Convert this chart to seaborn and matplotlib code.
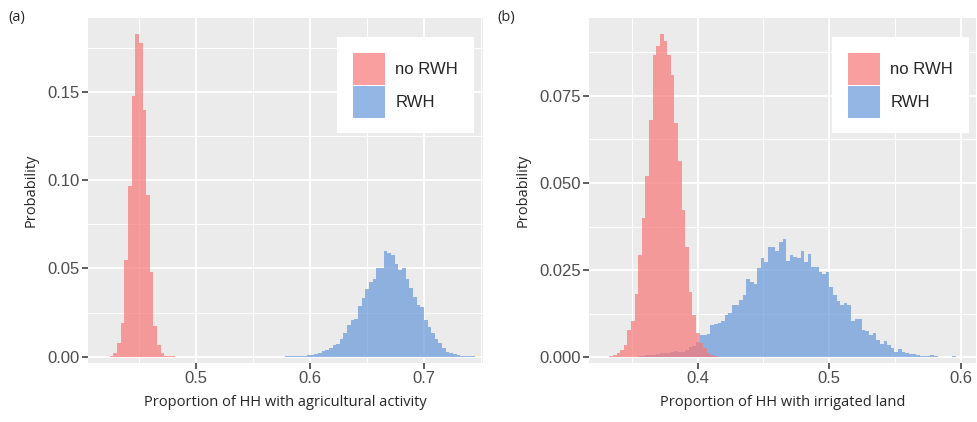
import numpy as np
import pandas as pd
import seaborn as sns
import matplotlib.pyplot as plt
from matplotlib.patches import Patch
from matplotlib.ticker import MultipleLocator

# ---- data (probabilities per bin) ----
groups = ["no RWH", "RWH"]

# panel (a): 100 shared bins
a_lo, a_width, a_nbins = 0.4243, 0.003207, 100
a_norwh_start = 0
a_norwh = [0.0004, 0.002, 0.008, 0.019, 0.055, 0.097, 0.148, 0.183, 0.178, 0.14,
           0.0915, 0.048, 0.0174, 0.0066, 0.002, 0.0006, 0.0002, 0.0001]
a_rwh_start = 48
a_rwh = [0.0001, 0.0001, 0.0002, 0.0002, 0.0003, 0.0006, 0.0007, 0.001, 0.0017, 0.0023,
         0.003, 0.0038, 0.005, 0.0068, 0.0074, 0.0098, 0.0136, 0.0178, 0.021, 0.0212,
         0.0288, 0.0333, 0.0386, 0.0424, 0.0443, 0.05, 0.05, 0.0598, 0.0585, 0.0576,
         0.0528, 0.049, 0.05, 0.0443, 0.039, 0.0339, 0.0292, 0.0282, 0.0205, 0.0167,
         0.0136, 0.0102, 0.0078, 0.0049, 0.0027, 0.0023, 0.0015, 0.0008, 0.0004, 0.0002,
         0.0001, 0.0001]

# panel (b): 100 shared bins
b_lo, b_width, b_nbins = 0.333, 0.00274, 100
b_norwh_start = 0
b_norwh = [0.0002, 0.0006, 0.0012, 0.002, 0.0035, 0.0079, 0.0105, 0.018, 0.0294, 0.04,
           0.052, 0.068, 0.0869, 0.0894, 0.0927, 0.0907, 0.0869, 0.081, 0.0673, 0.0562,
           0.0423, 0.0316, 0.0187, 0.0122, 0.007, 0.004, 0.0025, 0.0012, 0.0005, 0.0002]
b_rwh_start = 7
b_rwh = [0.0001, 0.0003, 0.0003, 0.0005, 0.0006, 0.0005, 0.0008, 0.0011, 0.0012, 0.0013,
         0.0016, 0.0018, 0.0015, 0.0016, 0.0019, 0.003, 0.0033, 0.0044, 0.0062, 0.0064,
         0.0067, 0.0093, 0.0096, 0.0098, 0.0105, 0.0121, 0.0127, 0.015, 0.015, 0.0165,
         0.0179, 0.0223, 0.0216, 0.0209, 0.0257, 0.0285, 0.0273, 0.0316, 0.0316, 0.0304,
         0.033, 0.0339, 0.0277, 0.0292, 0.0288, 0.0285, 0.0304, 0.0273, 0.0295, 0.026,
         0.026, 0.0244, 0.024, 0.0244, 0.02, 0.0179, 0.0162, 0.015, 0.0155, 0.015,
         0.0103, 0.0108, 0.011, 0.0077, 0.0074, 0.0064, 0.007, 0.0048, 0.0039, 0.0045,
         0.0034, 0.0025, 0.0016, 0.0022, 0.0016, 0.0012, 0.001, 0.0008, 0.0006, 0.0004,
         0.0003, 0.0003, 0.0005, 0.0003, 0.0001, 0.0001, 0.0001, 0.0001, 0.0002, 0.0001,
         0.0001, 0.0, 0.0]

a_xlabel = "Proportion of HH with agricultural activity"
b_xlabel = "Proportion of HH with irrigated land"
ylabel = "Probability"

colors = {"no RWH": "#F97676", "RWH": "#6698DA"}


def make_frame(lo, width, starts, values):
    rows = []
    for g, s, v in zip(groups, starts, values):
        for k, p in enumerate(v):
            rows.append((lo + (s + k + 0.5) * width, p, g))
    return pd.DataFrame(rows, columns=["x", "p", "group"])


sns.set_theme(style="darkgrid")
plt.rcParams.update({
    "axes.facecolor": "#EBEBEB",
    "grid.color": "white",
    "font.family": ["Liberation Sans", "DejaVu Sans"],
})

fig = plt.figure(figsize=(9.78, 4.22), dpi=100)
W, H = 978, 422
ax1 = fig.add_axes([88 / W, 1 - 363 / H, (483 - 88) / W, (363 - 18) / H])
ax2 = fig.add_axes([589 / W, 1 - 363 / H, (976 - 589) / W, (363 - 18) / H])

panels = [
    (ax1, a_lo, a_width, a_nbins, [a_norwh_start, a_rwh_start], [a_norwh, a_rwh],
     (0.4053, 0.752), (-0.0036, 0.192), 0.1, 0.05, a_xlabel, "{:.1f}", "{:.2f}", 474),
    (ax2, b_lo, b_width, b_nbins, [b_norwh_start, b_rwh_start], [b_norwh, b_rwh],
     (0.3175, 0.6115), (-0.0017, 0.0974), 0.1, 0.025, b_xlabel, "{:.1f}", "{:.3f}", 969),
]

for (ax, lo, width, nb, starts, vals, xlim, ylim, xmaj, ymaj, xlab,
     xfmt, yfmt, leg_right) in panels:
    df = make_frame(lo, width, starts, vals)
    sns.histplot(data=df, x="x", weights="p", hue="group", hue_order=groups,
                 bins=nb, binrange=(lo, lo + nb * width), palette=colors,
                 alpha=0.7, linewidth=0, legend=False, ax=ax)
    ax.xaxis.set_major_locator(MultipleLocator(xmaj))
    ax.xaxis.set_minor_locator(MultipleLocator(xmaj / 2))
    ax.yaxis.set_major_locator(MultipleLocator(ymaj))
    ax.yaxis.set_minor_locator(MultipleLocator(ymaj / 2))
    ax.set_xticks(ax.get_xticks())
    ax.set_xticklabels([xfmt.format(t) for t in ax.get_xticks()])
    ax.set_yticks(ax.get_yticks())
    ax.set_yticklabels([yfmt.format(t) for t in ax.get_yticks()])
    ax.set_xlim(*xlim)
    ax.set_ylim(*ylim)
    ax.grid(which="major", color="white", linewidth=1.3)
    ax.grid(which="minor", color="white", linewidth=0.65)
    ax.tick_params(which="major", length=4, width=1.1, color="#333333",
                   labelsize=12, labelcolor="#4D4D4D", pad=2, bottom=True, left=True)
    ax.tick_params(which="minor", length=0)
    for sp in ax.spines.values():
        sp.set_visible(False)
    ax.set_xlabel(xlab, fontsize=10.5, family=["Open Sans", "DejaVu Sans"], labelpad=6)
    ax.set_ylabel(ylabel, fontsize=10.5, family=["Open Sans", "DejaVu Sans"], labelpad=6)
    handles = [Patch(facecolor=colors[g], alpha=0.7, edgecolor="none") for g in groups]
    ax.legend(handles, groups, loc="upper right",
              bbox_to_anchor=(leg_right / W, 1 - 37 / H), bbox_transform=fig.transFigure,
              borderaxespad=0, fontsize=12, frameon=True, facecolor="white",
              edgecolor="none", framealpha=1, fancybox=False,
              handlelength=1.92, handleheight=2.57, labelspacing=0.05,
              handletextpad=0.65, borderpad=0.95)

fig.text(8 / W, 1 - 18 / H, "(a)", fontsize=10.5, family=["Open Sans", "DejaVu Sans"],
         va="center", ha="left")
fig.text(497 / W, 1 - 18 / H, "(b)", fontsize=10.5, family=["Open Sans", "DejaVu Sans"],
         va="center", ha="left")

fig.savefig("out.png", dpi=100)
